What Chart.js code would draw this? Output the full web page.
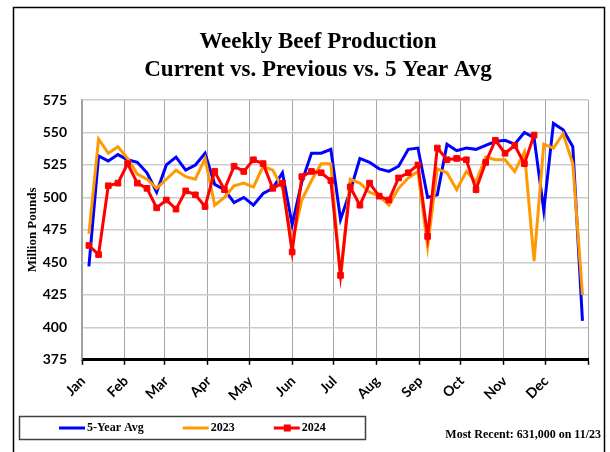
<!DOCTYPE html>
<html>
<head>
<meta charset="utf-8">
<script src="https://cdn.jsdelivr.net/npm/chart.js@4.4.1/dist/chart.umd.min.js"></script>
<style>
  html, body { margin: 0; padding: 0; background: #fff; }
</style>
</head>
<body>
<canvas id="chart1" width="610" height="452"></canvas>
<script>
// month boundaries as day-of-year (2024, leap year)
const monthLabels = ['Jan', 'Feb', 'Mar', 'Apr', 'May', 'Jun', 'Jul', 'Aug', 'Sep', 'Oct', 'Nov', 'Dec'];
const monthStarts = [0, 31, 60, 91, 121, 152, 182, 213, 244, 274, 305, 335, 366];
const yTicks = [375, 400, 425, 450, 475, 500, 525, 550, 575];

// first week ending Saturday, Jan 6 (day 5), weekly after that
const firstWeekDay = 5;

// million pounds per week
const fiveYearAvg = [447, 532, 528, 533, 529, 527, 519, 504, 525, 531, 521, 525, 534,
  510, 506, 496, 500, 494, 503, 507, 519, 479, 512, 534, 534, 537, 483, 505, 530, 527,
  522, 520, 524, 537, 538, 500, 502, 541, 536, 538, 537, 540, 543, 544, 541, 550, 546,
  490, 557, 552, 539, 405];
const y2023 = [472, 545, 534, 539, 530, 518, 514, 507, 514, 521, 516, 514, 530,
  494, 500, 509, 511, 508, 524, 521, 507, 465, 498, 513, 526, 526, 437, 514, 511, 504,
  501, 494, 507, 515, 520, 462, 522, 519, 506, 520, 512, 531, 529, 529, 520, 535, 451,
  541, 538, 549, 526, 425];
const y2024 = [463, 456, 509, 511, 526, 511, 507, 492, 498, 491, 505, 502, 493,
  520, 506, 524, 520, 529, 526, 507, 511, 458, 516, 520, 519, 513, 440, 508, 494, 511,
  501, 498, 515, 519, 525, 470, 538, 529, 530, 529, 506, 527, 544, 534, 540, 526, 548];

const titleLines = ['Weekly Beef Production', 'Current vs. Previous vs. 5 Year Avg'];
const mostRecent = 'Most Recent: 631,000 on 11/23';

function toPoints(vals) {
  return vals.map((v, i) => ({ x: firstWeekDay + 7 * i, y: v }));
}

const serif = 'Liberation Serif';
const sans = 'Lato';

// outer frame, title, boxed legend and the footnote
const framePlugin = {
  id: 'frame',
  afterDraw(chart) {
    const ctx = chart.ctx;
    ctx.save();
    ctx.strokeStyle = '#000';
    ctx.lineWidth = 1.5;
    ctx.strokeRect(13.5, 7.5, 591, 470);

    ctx.fillStyle = '#000';
    ctx.textAlign = 'center';
    ctx.textBaseline = 'middle';
    ctx.font = 'bold 23px "' + serif + '"';
    titleLines.forEach((t, i) => ctx.fillText(t, 318, 42 + i * 28));

    ctx.strokeStyle = '#404040';
    ctx.strokeRect(19.5, 416.5, 346, 23);

    ctx.font = 'bold 12px "' + serif + '"';
    let x = 59;
    const y = 428;
    chart.data.datasets.forEach(ds => {
      ctx.strokeStyle = ds.borderColor;
      ctx.lineWidth = 3;
      ctx.beginPath();
      ctx.moveTo(x, y);
      ctx.lineTo(x + 26, y);
      ctx.stroke();
      if (ds.pointRadius > 0) {
        ctx.fillStyle = ds.borderColor;
        ctx.fillRect(x + 10, y - 3.5, 7, 7);
      }
      ctx.fillStyle = '#000';
      ctx.textAlign = 'left';
      ctx.fillText(ds.label, x + 28, y);
      x += 28 + ctx.measureText(ds.label).width + 39;
    });

    ctx.textAlign = 'right';
    ctx.fillText(mostRecent, 601, 435);
    ctx.restore();
  }
};

const ctx1 = document.getElementById('chart1').getContext('2d');
const myChart1 = new Chart(ctx1, {
  type: 'line',
  data: {
    datasets: [{
      label: '5-Year Avg',
      data: toPoints(fiveYearAvg),
      borderColor: '#0000ff',
      backgroundColor: '#0000ff',
      borderWidth: 3,
      pointRadius: 0,
      order: 3
    }, {
      label: '2023',
      data: toPoints(y2023),
      borderColor: '#ff9900',
      backgroundColor: '#ff9900',
      borderWidth: 3,
      pointRadius: 0,
      order: 2
    }, {
      label: '2024',
      data: toPoints(y2024),
      borderColor: '#ff0000',
      backgroundColor: '#ff0000',
      borderWidth: 3,
      pointStyle: 'rect',
      pointRadius: 4,
      pointBorderWidth: 1,
      pointBackgroundColor: '#ff0000',
      order: 1
    }]
  },
  options: {
    responsive: false,
    devicePixelRatio: 1,
    animation: false,
    layout: {
      padding: { top: 100, left: 25, right: 22, bottom: 40 }
    },
    plugins: {
      legend: { display: false },
      tooltip: { enabled: false },
      title: { display: false }
    },
    scales: {
      x: {
        type: 'linear',
        min: 0,
        max: 366,
        afterBuildTicks: axis => { axis.ticks = monthStarts.map(v => ({ value: v })); },
        afterFit: axis => { axis.paddingLeft = 0; axis.paddingRight = 0; },
        ticks: {
          autoSkip: false,
          minRotation: 45,
          maxRotation: 45,
          labelOffset: 1,
          padding: 8,
          color: '#000',
          font: { family: sans, weight: 'bold', size: 14 },
          callback: (v, i) => monthLabels[i] || ''
        },
        grid: {
          color: '#a6a6a6',
          tickColor: '#000',
          tickLength: 5,
          tickWidth: 1.5
        },
        border: { color: '#000', width: 3 }
      },
      y: {
        min: 375,
        max: 575,
        afterBuildTicks: axis => { axis.ticks = yTicks.map(v => ({ value: v })); },
        afterFit: axis => { axis.width = 57; },
        ticks: {
          padding: 15,
          color: '#000',
          font: { family: sans, weight: 'bold', size: 14 }
        },
        grid: {
          color: '#cccccc',
          lineWidth: 1.5,
          drawTicks: false
        },
        border: { color: '#a0a0a0', width: 1.5 },
        title: {
          display: true,
          text: 'Million Pounds',
          color: '#000',
          font: { family: serif, weight: 'bold', size: 13 },
          padding: { top: 0, bottom: 2 }
        }
      }
    }
  },
  plugins: [framePlugin]
});
</script>
</body>
</html>
